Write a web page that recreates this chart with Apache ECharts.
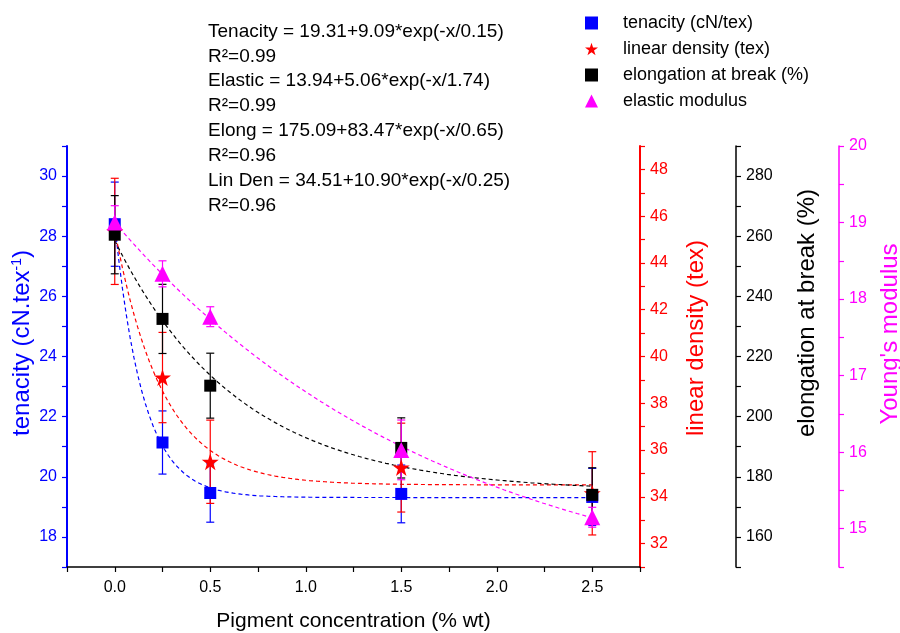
<!DOCTYPE html>
<html>
<head>
<meta charset="utf-8">
<script src="https://cdn.jsdelivr.net/npm/echarts@6/dist/echarts.min.js"></script>
<style>
  html, body { margin: 0; padding: 0; background: #ffffff; }
  #chart { width: 900px; height: 633px; }
</style>
</head>
<body>
<div id="chart"></div>
<script>
// Measured fibre properties vs pigment loading (mean and standard deviation)
const concentration = [0, 0.25, 0.5, 1.5, 2.5];
const tenacity = [28.4, 21.14, 19.46, 19.43, 19.33];
const tenacityErr = [1.4, 1.05, 0.97, 0.96, 0.95];
const linearDensity = [45.35, 39.1, 35.5, 35.25, 34.15];
const linearDensityErr = [2.27, 1.93, 1.78, 1.9, 1.78];
const elongation = [260.5, 232.5, 210.3, 189.6, 174];
const elongationErr = [13, 11.5, 10.8, 10, 9];
const modulus = [19.0, 18.33, 17.77, 16.03, 15.15];
const modulusErr = [0.22, 0.17, 0.13, 0.39, 0.13];

// Exponential decay fits y = y0 + A*exp(-x/t): [y0, A, t, R2]
const tenacityFit = [19.31, 9.09, 0.15, 0.99];
const elasticFit = [13.94, 5.06, 1.74, 0.99];
const elongFit = [175.09, 83.47, 0.65, 0.96];
const linDenFit = [34.51, 10.90, 0.25, 0.96];

// Axis ranges: [min, max, tick step, label step]
const xRange = [-0.25, 2.75, 0.25, 0.5];
const tenacityRange = [17, 31, 1, 2];
const linDenRange = [31, 49, 1, 2];
const elongRange = [150, 290, 10, 20];
const modulusRange = [14.5, 20, 0.5, 1];

const FONT = '"Liberation Sans", Arial, Helvetica, sans-serif';
const BLUE = '#0000ff', RED = '#ff0000', BLACK = '#000000', MAGENTA = '#ff00ff';

function fitCurve(p) {
  const pts = [];
  for (let k = 0; k <= 250; k += 2) {
    const x = k / 100;
    pts.push([x, p[0] + p[1] * Math.exp(-x / p[2])]);
  }
  return pts;
}

function labelEvery(range) {
  return function (v) {
    const q = Math.round((v - Math.ceil(range[0] / range[3]) * range[3]) / range[3] * 1000) / 1000;
    return Number.isInteger(q) ? String(Math.round(v * 100) / 100) : '';
  };
}

function yAxisOf(range, color, position, offset, width) {
  return {
    type: 'value', position: position, offset: offset,
    min: range[0], max: range[1], interval: range[2],
    splitLine: { show: false },
    axisLine: { show: true, onZero: false, lineStyle: { color: color, width: width } },
    axisTick: { show: true, inside: false, length: 5, lineStyle: { color: color, width: 1.2 } },
    axisLabel: { color: color, fontSize: 16, fontFamily: FONT, margin: 10,
                 formatter: labelEvery(range) }
  };
}

function errorSeries(name, vals, errs, color, yIndex) {
  return {
    type: 'custom', name: name + ' err', yAxisIndex: yIndex, z: 2, silent: true,
    data: concentration.map((x, i) => [x, vals[i], errs[i]]),
    encode: { x: 0, y: 1 },
    renderItem: function (params, api) {
      const x = api.value(0), y = api.value(1), e = api.value(2);
      const top = api.coord([x, y + e]);
      const bot = api.coord([x, y - e]);
      const hw = 4;
      const st = { stroke: color, lineWidth: 1.2 };
      return {
        type: 'group',
        children: [
          { type: 'line', shape: { x1: top[0], y1: top[1], x2: bot[0], y2: bot[1] }, style: st },
          { type: 'line', shape: { x1: top[0] - hw, y1: top[1], x2: top[0] + hw, y2: top[1] }, style: st },
          { type: 'line', shape: { x1: bot[0] - hw, y1: bot[1], x2: bot[0] + hw, y2: bot[1] }, style: st }
        ]
      };
    }
  };
}

function fitSeries(p, color, yIndex) {
  return {
    type: 'line', yAxisIndex: yIndex, z: 1, silent: true,
    data: fitCurve(p), showSymbol: false, symbol: 'none', smooth: false,
    lineStyle: { color: color, width: 1.2, type: [4, 3] }
  };
}

const STAR = 'path://M50,0 L61.8,35.3 L98.9,35.3 L68.9,57.3 L80.3,92.7 L50,70.8 L19.7,92.7 L31.1,57.3 L1.1,35.3 L38.2,35.3 Z';

const names = ['tenacity (cN/tex)', 'linear density (tex)', 'elongation at break (%)', 'elastic modulus'];

function f2(v) { return v.toFixed(2); }
const fitText = [
  'Tenacity = ' + f2(tenacityFit[0]) + '+' + f2(tenacityFit[1]) + '*exp(-x/' + f2(tenacityFit[2]) + ')',
  'R²=' + f2(tenacityFit[3]),
  'Elastic = ' + f2(elasticFit[0]) + '+' + f2(elasticFit[1]) + '*exp(-x/' + f2(elasticFit[2]) + ')',
  'R²=' + f2(elasticFit[3]),
  'Elong = ' + f2(elongFit[0]) + '+' + f2(elongFit[1]) + '*exp(-x/' + f2(elongFit[2]) + ')',
  'R²=' + f2(elongFit[3]),
  'Lin Den = ' + f2(linDenFit[0]) + '+' + f2(linDenFit[1]) + '*exp(-x/' + f2(linDenFit[2]) + ')',
  'R²=' + f2(linDenFit[3])
].join('\n');

function markers(vals) {
  return concentration.map((x, i) => [x, vals[i]]);
}

const chart = echarts.init(document.getElementById('chart'), null, { renderer: 'canvas' });

chart.setOption({
  backgroundColor: '#ffffff',
  animation: false,
  textStyle: { fontFamily: FONT },
  grid: { left: 67, right: 260, top: 146, bottom: 66, containLabel: false, outerBoundsMode: 'none' },
  legend: {
    data: names, orient: 'vertical', left: 585, top: 13, padding: 0,
    itemWidth: 13, itemHeight: 13, itemGap: 6,
    textStyle: { fontSize: 18, color: '#000', fontFamily: FONT, padding: [0, 0, 0, 20], lineHeight: 20 },
    selectedMode: false
  },
  xAxis: {
    type: 'value', min: xRange[0], max: xRange[1], interval: xRange[2],
    name: 'Pigment concentration (% wt)', nameLocation: 'middle', nameGap: 44,
    nameTextStyle: { fontSize: 21, color: '#000', fontFamily: FONT },
    splitLine: { show: false },
    axisLine: { show: true, onZero: false, lineStyle: { color: '#000', width: 1.5 } },
    axisTick: { show: true, inside: false, length: 5, lineStyle: { color: '#000', width: 1.2 } },
    axisLabel: {
      color: '#000', fontSize: 16, fontFamily: FONT, margin: 13,
      formatter: function (v) {
        const q = Math.round(v / xRange[3] * 1000) / 1000;
        return (Number.isInteger(q) && v >= 0 && v < xRange[1]) ? v.toFixed(1) : '';
      }
    }
  },
  yAxis: [
    yAxisOf(tenacityRange, BLUE, 'left', 0, 2),
    yAxisOf(linDenRange, RED, 'right', 0, 2),
    yAxisOf(elongRange, BLACK, 'right', 96, 1.5),
    yAxisOf(modulusRange, MAGENTA, 'right', 199, 1.5)
  ],
  graphic: [
    { type: 'text', x: 208, y: 19, z: 10, silent: true,
      style: { text: fitText, fill: '#000', font: '19px ' + FONT, lineHeight: 24.9 } },
    { type: 'text', x: 22, y: 343, rotation: Math.PI / 2, silent: true,
      style: { text: '{a|tenacity (cN.tex}{s|-1}{a|)}', align: 'center', verticalAlign: 'middle',
               rich: { a: { fontSize: 24, fill: BLUE, fontFamily: FONT },
                       s: { fontSize: 14, fill: BLUE, fontFamily: FONT, verticalAlign: 'top' } } } },
    { type: 'text', x: 696, y: 338, rotation: Math.PI / 2, silent: true,
      style: { text: 'linear density (tex)', fill: RED, font: '24px ' + FONT, align: 'center', verticalAlign: 'middle' } },
    { type: 'text', x: 807, y: 313, rotation: Math.PI / 2, silent: true,
      style: { text: 'elongation at break (%)', fill: BLACK, font: '24px ' + FONT, align: 'center', verticalAlign: 'middle' } },
    { type: 'text', x: 890, y: 334, rotation: Math.PI / 2, silent: true,
      style: { text: "Young's modulus", fill: MAGENTA, font: '24px ' + FONT, align: 'center', verticalAlign: 'middle' } }
  ],
  series: [
    fitSeries(tenacityFit, BLUE, 0),
    fitSeries(linDenFit, RED, 1),
    fitSeries(elongFit, BLACK, 2),
    fitSeries(elasticFit, MAGENTA, 3),
    errorSeries(names[0], tenacity, tenacityErr, BLUE, 0),
    errorSeries(names[1], linearDensity, linearDensityErr, RED, 1),
    errorSeries(names[2], elongation, elongationErr, BLACK, 2),
    errorSeries(names[3], modulus, modulusErr, MAGENTA, 3),
    { type: 'scatter', name: names[0], yAxisIndex: 0, z: 3, symbol: 'rect', symbolSize: 12,
      itemStyle: { color: BLUE, opacity: 1 }, data: markers(tenacity) },
    { type: 'scatter', name: names[1], yAxisIndex: 1, z: 3, symbol: STAR, symbolSize: 17,
      itemStyle: { color: RED, opacity: 1 }, data: markers(linearDensity) },
    { type: 'scatter', name: names[2], yAxisIndex: 2, z: 3, symbol: 'rect', symbolSize: 12,
      itemStyle: { color: BLACK, opacity: 1 }, data: markers(elongation) },
    { type: 'scatter', name: names[3], yAxisIndex: 3, z: 3, symbol: 'triangle', symbolSize: 16,
      itemStyle: { color: MAGENTA, opacity: 1 }, data: markers(modulus) }
  ]
});
</script>
</body>
</html>
